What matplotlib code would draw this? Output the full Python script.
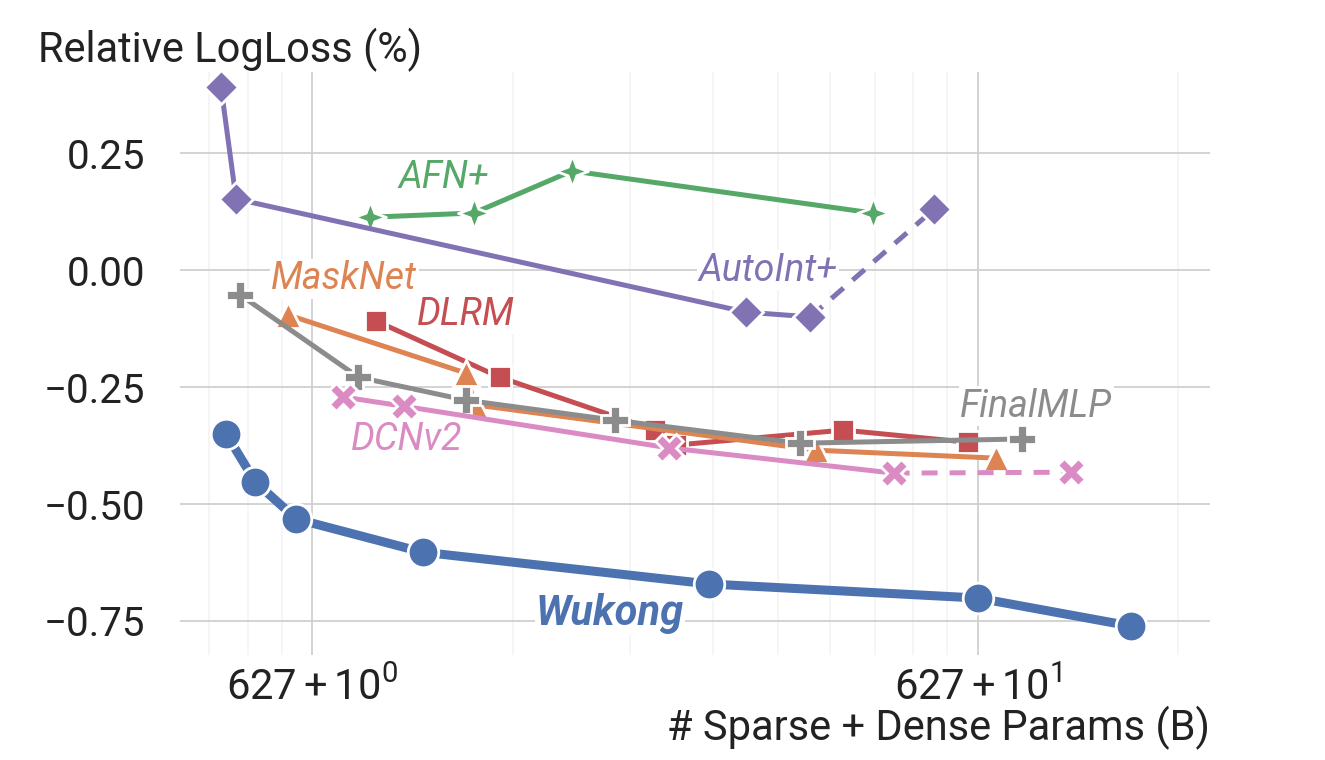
import numpy as np
import matplotlib
matplotlib.use("Agg")
import matplotlib.pyplot as plt
from matplotlib.path import Path
from matplotlib.ticker import FixedLocator, LogLocator, NullFormatter

plt.rcParams['font.family'] = ['Roboto', 'DejaVu Sans']
plt.rcParams['mathtext.fontset'] = 'custom'
plt.rcParams['mathtext.rm'] = 'Roboto'
plt.rcParams['mathtext.it'] = 'Roboto:italic'

# ---------------- data ----------------
wukong_x = [0.742, 0.821, 0.946, 1.465, 3.95, 10.0, 17.0]
wukong_y = [-0.35, -0.453, -0.532, -0.603, -0.671, -0.701, -0.761]

autoint_x = [0.729, 0.768, 4.49, 5.60, 8.59]
autoint_y = [0.391, 0.152, -0.090, -0.100, 0.130]

afn_x = [1.219, 1.748, 2.455, 6.95]
afn_y = [0.113, 0.122, 0.212, 0.122]

masknet_x = [0.920, 1.700, 1.754, 5.72, 10.65]
masknet_y = [-0.096, -0.220, -0.288, -0.385, -0.402]

dlrm_x = [1.248, 1.912, 3.27, 3.52, 6.28, 9.66]
dlrm_y = [-0.109, -0.229, -0.342, -0.374, -0.342, -0.368]

finalmlp_x = [0.779, 1.173, 1.700, 2.85, 5.40, 11.65]
finalmlp_y = [-0.053, -0.229, -0.278, -0.321, -0.370, -0.361]

dcn_x = [1.110, 1.371, 3.43, 7.47, 13.8]
dcn_y = [-0.271, -0.291, -0.380, -0.434, -0.432]

y_ticks = [0.25, 0.0, -0.25, -0.5, -0.75]
x_ticks = [1, 10]
x_tick_labels = [r'$627 + 10^{0}$', r'$627 + 10^{1}$']

# label annotation positions (data coords)
labels = {
    'AFN+': (1.575, 0.197),
    'AutoInt+': (4.83, 0.0),
    'MaskNet': (1.117, -0.019),
    'DLRM': (1.70, -0.094),
    'FinalMLP': (12.23, -0.291),
    'DCNv2': (1.385, -0.363),
    'Wukong': (2.80, -0.733),
}

# ---------------- style ----------------
C_BLUE = '#4C72B0'
C_ORANGE = '#DD8452'
C_GREEN = '#55A868'
C_RED = '#C44E52'
C_PURPLE = '#8172B3'
C_GRAY = '#8C8C8C'
C_PINK = '#DA8BC3'

star4 = Path.unit_regular_star(4, 0.38)

fig = plt.figure(figsize=(13.25, 7.6), dpi=100)
ax = fig.add_axes([0.136, 0.138, 0.777, 0.767])

ax.set_xscale('log')
ax.set_xlim(0.633, 22.3)
ax.set_ylim(-0.823, 0.423)

for s in ax.spines.values():
    s.set_visible(False)

ax.xaxis.set_major_locator(FixedLocator(x_ticks))
ax.set_xticklabels(x_tick_labels)
ax.xaxis.set_minor_locator(LogLocator(base=10, subs=np.arange(2, 10)))
ax.xaxis.set_minor_formatter(NullFormatter())
ax.set_yticks(y_ticks)
ax.set_yticklabels([f'{v:.2f}'.replace('-', '\u2212') for v in y_ticks])

ax.grid(True, which='major', color='#d0d0d0', lw=1.3, zorder=0)
ax.grid(True, which='minor', axis='x', color='#f3f3f3', lw=1.2, zorder=0)
ax.set_axisbelow(True)
ax.tick_params(which='both', length=0)
ax.tick_params(axis='y', labelsize=29, pad=25, colors='#222222')
ax.tick_params(axis='x', labelsize=30, pad=9, colors='#222222')

ax.set_xlabel('# Sparse + Dense Params (B)', fontsize=30, loc='right',
              labelpad=-2, color='#222222')
fig.text(0.029, 0.934, 'Relative LogLoss (%)', fontsize=30, color='#222222',
         ha='left', va='center')

mk = dict(markeredgecolor='white', markeredgewidth=2)
lw = 3.6

def seg(x, y, color, marker, ms, style_last_dashed=False, lw_=lw, z=3):
    if style_last_dashed:
        ax.plot(x[:-1], y[:-1], color=color, lw=lw_, zorder=z)
        ax.plot(x[-2:], y[-2:], color=color, lw=lw_, ls=(0, (3.2, 2.4)), zorder=z)
    else:
        ax.plot(x, y, color=color, lw=lw_, zorder=z)
    ax.plot(x, y, ls='none', marker=marker, color=color, ms=ms, zorder=z + 0.1, **mk)

seg(dlrm_x, dlrm_y, C_RED, 's', 16, z=3)
seg(masknet_x, masknet_y, C_ORANGE, '^', 19, z=3.2)
seg(finalmlp_x, finalmlp_y, C_GRAY, 'P', 20, z=3.4)
seg(dcn_x, dcn_y, C_PINK, 'X', 20, style_last_dashed=True, z=3.6)
seg(afn_x, afn_y, C_GREEN, star4, 23, z=3.8)
seg(autoint_x, autoint_y, C_PURPLE, 'D', 17, style_last_dashed=True, z=4)
seg(wukong_x, wukong_y, C_BLUE, 'o', 22, lw_=6.5, z=4.2)

label_colors = {'AFN+': C_GREEN, 'AutoInt+': C_PURPLE, 'MaskNet': C_ORANGE,
                'DLRM': C_RED, 'FinalMLP': C_GRAY, 'DCNv2': C_PINK,
                'Wukong': C_BLUE}
for name, (lx, ly) in labels.items():
    bold = name == 'Wukong'
    ax.text(lx, ly, name, color=label_colors[name], fontsize=30 if bold else 27,
            fontstyle='italic', fontweight='bold' if bold else 'normal',
            ha='center', va='center', zorder=2.5,
            bbox=dict(facecolor='white', edgecolor='none', pad=1))

fig.savefig('out.png', dpi=100, facecolor='white')
